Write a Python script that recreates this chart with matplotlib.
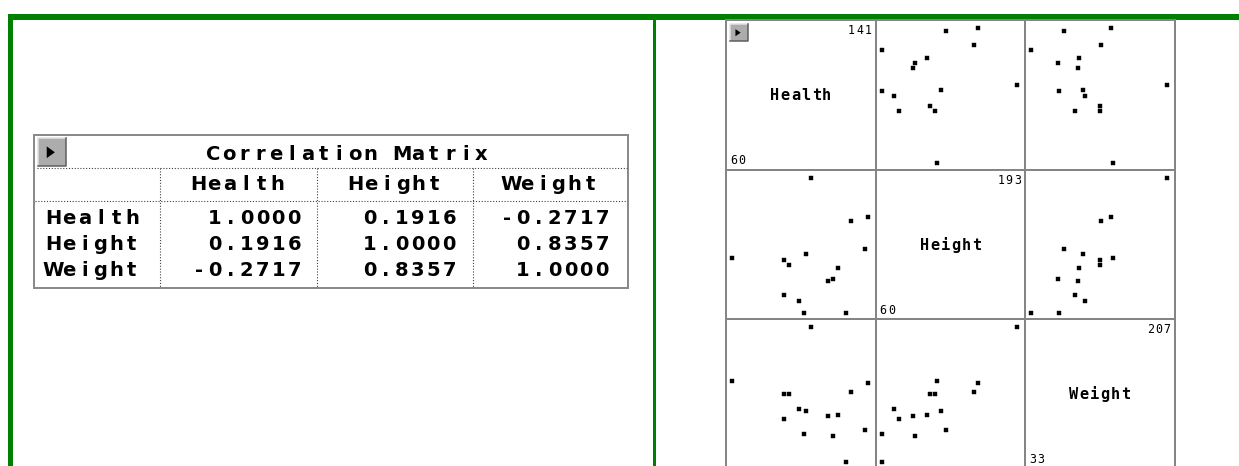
import matplotlib
matplotlib.use("Agg")
import matplotlib.pyplot as plt
from matplotlib.patches import Polygon, Rectangle

# observations shown in the scatterplot matrix
health = [107, 131, 141, 139, 60, 104, 91, 94, 123, 120, 117, 91, 100, 103, 128]
height = [193, 150, 154, 123, 114, 118, 112, 107, 104, 93, 91, 77, 72, 60, 60]
weight = [207, 123, 135, 75, 138, 99, 121, 121, 94, 67, 93, 89, 102, 69, 33]

var_names = ["Health", "Height", "Weight"]
corr_values = [
    [1.0000, 0.1916, -0.2717],
    [0.1916, 1.0000, 0.8357],
    [-0.2717, 0.8357, 1.0000],
]

W, H = 1239, 466
GREEN = "#008000"
GRID_GRAY = "#858585"
PX = 0.72  # one pixel in points at dpi 100


def mono_text(ax, x, y, s, pitch, ha="left", **kw):
    # fixed-pitch text, one character per cell
    n = len(s)
    if ha == "left":
        x0 = x
    elif ha == "right":
        x0 = x - n * pitch
    else:
        x0 = x - n * pitch / 2
    for i, ch in enumerate(s):
        if ch != " ":
            ax.text(x0 + (i + 0.5) * pitch, y, ch, ha="center", va="baseline", **kw)


def draw_button(ax, x, y, w, h):
    ax.add_patch(Rectangle((x, y), w, h, facecolor="#acacac", edgecolor="none"))
    ax.plot([x, x, x + w], [y + h, y, y], color="#e2e2e2", lw=1.5 * PX)
    ax.plot([x, x + w, x + w], [y + h, y + h, y], color="#5c5c5c", lw=1.5 * PX)
    tri = [(x + 0.33 * w, y + 0.30 * h), (x + 0.33 * w, y + 0.72 * h), (x + 0.62 * w, y + 0.51 * h)]
    ax.add_patch(Polygon(tri, closed=True, facecolor="black", edgecolor="none"))


def dotted(ax, xs, ys):
    ax.plot(xs, ys, color="#404040", lw=1.1 * PX, linestyle=(0, (1, 1.6)))


fig = plt.figure(figsize=(W / 100, H / 100), dpi=100)
base = fig.add_axes([0, 0, 1, 1])
base.set_xlim(0, W)
base.set_ylim(H, 0)
base.axis("off")

# green window frame
base.add_patch(Rectangle((8, 14), W - 8, 6, facecolor=GREEN, edgecolor="none"))
base.add_patch(Rectangle((8, 14), 5, H - 14, facecolor=GREEN, edgecolor="none"))
base.add_patch(Rectangle((653, 20), 2.5, H - 20, facecolor=GREEN, edgecolor="none"))

# correlation table
t_left, t_top, t_right, t_bottom = 33.5, 135, 628, 288
col_edges = [159.5, 316.5, 473, t_right]
base.add_patch(Rectangle((t_left, t_top), t_right - t_left, t_bottom - t_top,
                         facecolor="white", edgecolor="#8a8a8a", lw=2 * PX))
draw_button(base, 37.5, 138, 28, 28)
dotted(base, [t_left + 3, t_right - 1], [168.3, 168.3])
dotted(base, [t_left + 1, t_right - 1], [200.7, 200.7])
for xe in col_edges[:-1]:
    dotted(base, [xe, xe], [168.3, t_bottom - 1])

tfont = dict(family="DejaVu Sans", fontweight="bold", fontsize=14, color="black")
pitch = 15.8
mono_text(base, (66 + t_right) / 2, 160.5, "Correlation Matrix", pitch, ha="center", **tfont)
for j, name in enumerate(var_names):
    mono_text(base, (col_edges[j] + col_edges[j + 1]) / 2, 190, name, pitch, ha="center", **tfont)

row_base = [224, 250, 276]
value_right = [302, 457, 610]
for i, name in enumerate(var_names):
    mono_text(base, 45, row_base[i], name, pitch, ha="left", **tfont)
    for j in range(3):
        mono_text(base, value_right[j], row_base[i], f"{corr_values[i][j]:.4f}", pitch, ha="right", **tfont)

# scatterplot matrix
data = [health, height, weight]
cell = 149.5
m_left, m_top = 726, 20
for k in range(4):
    xk = m_left + k * cell
    base.plot([xk, xk], [m_top, H], color=GRID_GRAY, lw=2 * PX)
for k in range(3):
    yk = m_top + k * cell
    base.plot([m_left, m_left + 3 * cell], [yk, yk], color=GRID_GRAY, lw=2 * PX)

pad_l, pad_r, pad_t, pad_b = 6.3, 7.5, 8.0, 6.3
for i in range(3):
    for j in range(3):
        cx0 = m_left + j * cell
        cy0 = m_top + i * cell
        if i == j:
            vals = data[i]
            mono_text(base, cx0 + cell / 2, cy0 + cell / 2 + 5.5, var_names[i], 10.4, ha="center",
                      family="DejaVu Sans Mono", fontweight="bold", fontsize=11, color="black")
            mono_text(base, cx0 + cell - 3.5, cy0 + 14, str(max(vals)), 8.3, ha="right",
                      family="DejaVu Sans Mono", fontsize=8.4, color="black")
            mono_text(base, cx0 + 3.5, cy0 + cell - 5.5, str(min(vals)), 8.3, ha="left",
                      family="DejaVu Sans Mono", fontsize=8.4, color="black")
            continue
        x_px = cx0 + pad_l
        y_px = cy0 + pad_t
        w_px = cell - pad_l - pad_r
        h_px = cell - pad_t - pad_b
        ax = fig.add_axes([x_px / W, 1 - (y_px + h_px) / H, w_px / W, h_px / H])
        xv, yv = data[j], data[i]
        ax.set_xlim(min(xv), max(xv))
        ax.set_ylim(min(yv), max(yv))
        ax.axis("off")
        ax.plot(xv, yv, linestyle="none", marker="s", ms=3.0, mfc="black", mec="black",
                mew=0.3, clip_on=False)

draw_button(base, 729.5, 24, 18, 17)

fig.savefig("out.png", dpi=100, facecolor="white")
